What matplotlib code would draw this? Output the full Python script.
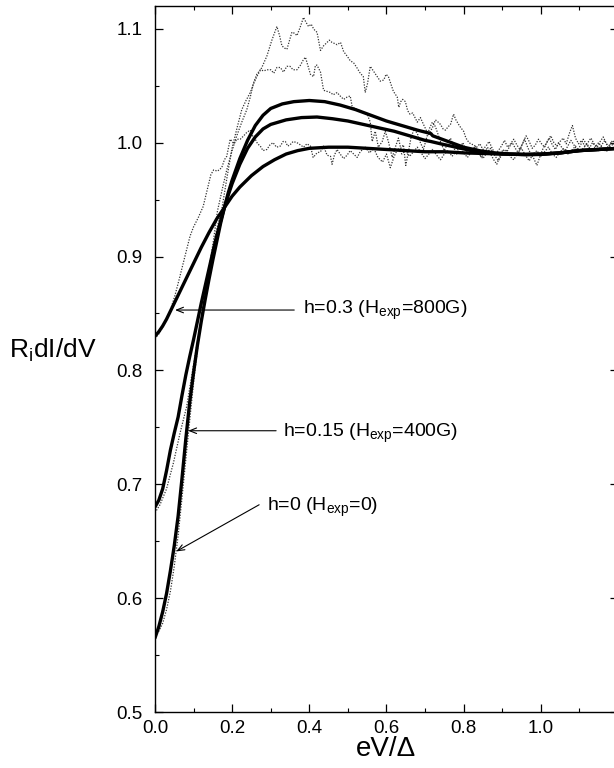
import matplotlib
matplotlib.use("Agg")
import matplotlib.pyplot as plt
from matplotlib.ticker import MultipleLocator

plt.rcParams['font.family'] = ['Liberation Sans', 'DejaVu Sans']
plt.rcParams['mathtext.default'] = 'regular'

# ─── Curvas teóricas ─────────────────────────────────────────────
x_t0 = [0.000, 0.010, 0.020, 0.030, 0.040, 0.050, 0.060, 0.070, 0.080, 0.090,
        0.100, 0.110, 0.120, 0.130, 0.140, 0.150, 0.160, 0.170, 0.180, 0.190,
        0.200, 0.220, 0.240, 0.260, 0.280, 0.300, 0.330, 0.360, 0.400, 0.440,
        0.480, 0.520, 0.560, 0.600, 0.640, 0.680, 0.715, 0.720, 0.760, 0.800,
        0.840, 0.880, 0.920, 0.960, 1.000, 1.050, 1.100, 1.150, 1.200]
y_t0 = [0.565, 0.575, 0.588, 0.604, 0.624, 0.646, 0.672, 0.705, 0.740, 0.772,
        0.798, 0.822, 0.843, 0.862, 0.880, 0.897, 0.913, 0.929, 0.943, 0.956,
        0.967, 0.986, 1.002, 1.015, 1.024, 1.030, 1.034, 1.036, 1.037, 1.036,
        1.033, 1.029, 1.024, 1.019, 1.015, 1.011, 1.008, 1.006, 1.001, 0.996,
        0.993, 0.991, 0.990, 0.9895, 0.9897, 0.991, 0.993, 0.994, 0.995]

x_t015 = [0.000, 0.010, 0.020, 0.030, 0.040, 0.050, 0.060, 0.070, 0.080, 0.090,
          0.100, 0.110, 0.120, 0.130, 0.140, 0.150, 0.160, 0.170, 0.180, 0.190,
          0.200, 0.220, 0.240, 0.260, 0.280, 0.300, 0.340, 0.380, 0.420, 0.460,
          0.500, 0.540, 0.580, 0.620, 0.660, 0.700, 0.715, 0.740, 0.780, 0.820,
          0.860, 0.900, 0.960, 1.000, 1.050, 1.100, 1.150, 1.200]
y_t015 = [0.680, 0.686, 0.696, 0.712, 0.730, 0.745, 0.759, 0.778, 0.796, 0.812,
          0.827, 0.843, 0.859, 0.874, 0.889, 0.904, 0.918, 0.931, 0.943, 0.954,
          0.964, 0.981, 0.995, 1.005, 1.012, 1.016, 1.020, 1.022, 1.0225, 1.021,
          1.019, 1.016, 1.013, 1.010, 1.006, 1.002, 1.001, 0.999, 0.996, 0.993,
          0.991, 0.990, 0.9895, 0.9897, 0.991, 0.993, 0.994, 0.995]

x_t03 = [0.000, 0.010, 0.020, 0.030, 0.040, 0.050, 0.060, 0.080, 0.100, 0.120,
         0.140, 0.160, 0.180, 0.200, 0.220, 0.250, 0.280, 0.310, 0.340, 0.370,
         0.400, 0.450, 0.500, 0.550, 0.600, 0.650, 0.700, 0.750, 0.800, 0.850,
         0.900, 0.950, 1.000, 1.050, 1.100, 1.150, 1.200]
y_t03 = [0.830, 0.834, 0.839, 0.845, 0.852, 0.859, 0.866, 0.880, 0.894, 0.908,
         0.921, 0.933, 0.943, 0.953, 0.961, 0.971, 0.979, 0.985, 0.990, 0.993,
         0.995, 0.996, 0.996, 0.995, 0.994, 0.993, 0.992, 0.992, 0.991, 0.9905,
         0.990, 0.9897, 0.990, 0.991, 0.993, 0.994, 0.995]

# ─── Datos experimentales ────────────────────────────────────────
x_e0 = [0.000, 0.010, 0.020, 0.030, 0.040, 0.050, 0.060, 0.070, 0.080, 0.090,
        0.100, 0.110, 0.120, 0.130, 0.140, 0.150, 0.160, 0.173, 0.186, 0.199,
        0.212, 0.225, 0.236, 0.247, 0.256, 0.264, 0.277, 0.290, 0.303, 0.316,
        0.323, 0.329, 0.336, 0.342, 0.349, 0.355, 0.362, 0.368, 0.376, 0.385,
        0.391, 0.398, 0.405, 0.411, 0.416, 0.420, 0.425, 0.429, 0.437, 0.446,
        0.452, 0.459, 0.466, 0.472, 0.481, 0.489, 0.498, 0.506, 0.515, 0.523,
        0.532, 0.540, 0.545, 0.551, 0.558, 0.566, 0.576, 0.584, 0.593, 0.599,
        0.605, 0.612, 0.618, 0.624, 0.628, 0.632, 0.637, 0.642, 0.649, 0.655,
        0.661, 0.668, 0.674, 0.680, 0.688, 0.696, 0.703, 0.709, 0.714, 0.719,
        0.727, 0.734, 0.740, 0.747, 0.753, 0.760, 0.766, 0.774, 0.780, 0.787,
        0.793, 0.800, 0.806, 0.812, 0.818, 0.826, 0.834, 0.842, 0.850, 0.858,
        0.866, 0.874, 0.882, 0.890, 0.898, 0.906, 0.914, 0.922, 0.930, 0.938,
        0.946, 0.954, 0.962, 0.970, 0.978, 0.986, 0.994, 1.002, 1.010, 1.018,
        1.026, 1.034, 1.042, 1.050, 1.058, 1.066, 1.074, 1.082, 1.090, 1.098,
        1.106, 1.114, 1.122, 1.130, 1.138, 1.146, 1.154, 1.162, 1.170, 1.178,
        1.186, 1.194, 1.200]
y_e0 = [0.567, 0.571, 0.578, 0.590, 0.606, 0.628, 0.655, 0.688, 0.722, 0.756,
        0.789, 0.818, 0.845, 0.868, 0.889, 0.907, 0.924, 0.941, 0.968, 0.994,
        1.012, 1.029, 1.037, 1.044, 1.052, 1.058, 1.066, 1.076, 1.090, 1.102,
        1.094, 1.085, 1.083, 1.082, 1.090, 1.097, 1.096, 1.094, 1.101, 1.110,
        1.106, 1.102, 1.104, 1.100, 1.098, 1.097, 1.088, 1.081, 1.085, 1.088,
        1.090, 1.088, 1.087, 1.086, 1.088, 1.080, 1.076, 1.072, 1.070, 1.066,
        1.061, 1.058, 1.044, 1.052, 1.067, 1.063, 1.058, 1.054, 1.055, 1.060,
        1.058, 1.051, 1.045, 1.042, 1.040, 1.031, 1.036, 1.038, 1.036, 1.028,
        1.025, 1.026, 1.022, 1.018, 1.022, 1.016, 1.011, 1.007, 1.010, 1.013,
        1.020, 1.018, 1.016, 1.012, 1.011, 1.014, 1.016, 1.025, 1.020, 1.016,
        1.013, 1.010, 1.004, 1.001, 0.999, 0.998, 0.996, 0.999, 0.994, 0.997,
        1.001, 0.995, 0.990, 0.993, 0.997, 1.002, 0.996, 0.999, 1.003, 0.998,
        0.994, 1.000, 1.006, 1.001, 0.995, 0.998, 1.003, 0.999, 0.996, 1.002,
        1.006, 1.000, 0.997, 1.001, 1.004, 0.999, 1.008, 1.015, 1.004, 0.999,
        1.002, 0.997, 1.000, 1.004, 0.999, 0.996, 1.001, 1.005, 0.999, 0.997,
        1.002, 0.999, 0.998]

x_e015 = [0.000, 0.013, 0.030, 0.048, 0.065, 0.082, 0.100, 0.120, 0.140, 0.152,
          0.162, 0.175, 0.186, 0.200, 0.212, 0.225, 0.238, 0.247, 0.255, 0.264,
          0.273, 0.282, 0.290, 0.300, 0.308, 0.316, 0.325, 0.333, 0.342, 0.350,
          0.358, 0.368, 0.377, 0.385, 0.390, 0.396, 0.403, 0.411, 0.416, 0.420,
          0.429, 0.437, 0.446, 0.455, 0.462, 0.472, 0.480, 0.489, 0.498, 0.506,
          0.511, 0.518, 0.524, 0.532, 0.541, 0.550, 0.558, 0.563, 0.571, 0.579,
          0.589, 0.597, 0.605, 0.615, 0.623, 0.631, 0.637, 0.644, 0.650, 0.657,
          0.664, 0.672, 0.680, 0.688, 0.696, 0.703, 0.711, 0.719, 0.727, 0.735,
          0.742, 0.750, 0.758, 0.766, 0.774, 0.782, 0.790, 0.798, 0.806, 0.814,
          0.822, 0.830, 0.838, 0.846, 0.854, 0.862, 0.870, 0.878, 0.886, 0.894,
          0.902, 0.910, 0.918, 0.926, 0.934, 0.942, 0.950, 0.958, 0.966, 0.974,
          0.982, 0.990, 0.998, 1.006, 1.014, 1.022, 1.030, 1.038, 1.046, 1.054,
          1.062, 1.070, 1.078, 1.086, 1.094, 1.102, 1.110, 1.118, 1.126, 1.134,
          1.142, 1.150, 1.158, 1.166, 1.174, 1.182, 1.190, 1.200]
y_e015 = [0.675, 0.682, 0.696, 0.719, 0.745, 0.768, 0.805, 0.845, 0.889, 0.915,
          0.940, 0.960, 0.976, 0.993, 1.006, 1.018, 1.029, 1.040, 1.052, 1.060,
          1.064, 1.063, 1.064, 1.064, 1.061, 1.066, 1.066, 1.062, 1.067, 1.067,
          1.064, 1.064, 1.068, 1.073, 1.075, 1.068, 1.060, 1.058, 1.068, 1.068,
          1.062, 1.046, 1.045, 1.044, 1.042, 1.044, 1.041, 1.038, 1.040, 1.041,
          1.032, 1.030, 1.029, 1.028, 1.026, 1.025, 1.018, 1.001, 1.010, 0.996,
          1.001, 1.010, 1.001, 0.987, 0.996, 1.004, 0.995, 0.998, 0.980, 0.992,
          1.005, 1.012, 1.008, 1.000, 0.994, 1.003, 1.012, 1.018, 1.014, 1.006,
          0.999, 0.993, 0.999, 1.004, 0.996, 0.990, 0.995, 1.000, 0.994, 0.989,
          0.993, 0.997, 0.992, 0.987, 0.991, 0.996, 0.990, 0.985, 0.981, 0.988,
          0.994, 0.990, 0.996, 1.000, 0.995, 0.991, 0.997, 1.003, 0.996, 0.990,
          0.986, 0.980, 0.988, 0.995, 0.999, 1.004, 0.998, 0.994, 1.000, 0.996,
          0.992, 0.997, 1.002, 0.998, 0.993, 0.997, 1.003, 0.999, 0.995, 1.000,
          0.997, 0.993, 0.998, 1.002, 0.996, 1.000, 0.998, 0.996]

x_e03 = [0.000, 0.010, 0.020, 0.030, 0.040, 0.052, 0.062, 0.073, 0.082, 0.091,
         0.100, 0.112, 0.125, 0.135, 0.145, 0.152, 0.162, 0.173, 0.180, 0.186,
         0.195, 0.205, 0.212, 0.221, 0.230, 0.238, 0.247, 0.253, 0.260, 0.266,
         0.273, 0.280, 0.290, 0.298, 0.306, 0.315, 0.325, 0.332, 0.338, 0.344,
         0.350, 0.358, 0.368, 0.377, 0.385, 0.394, 0.403, 0.410, 0.420, 0.429,
         0.437, 0.446, 0.455, 0.459, 0.465, 0.472, 0.480, 0.489, 0.498, 0.506,
         0.515, 0.524, 0.532, 0.545, 0.556, 0.567, 0.578, 0.590, 0.600, 0.610,
         0.620, 0.630, 0.640, 0.650, 0.660, 0.670, 0.680, 0.690, 0.700, 0.710,
         0.720, 0.730, 0.740, 0.750, 0.760, 0.770, 0.780, 0.790, 0.800, 0.810,
         0.820, 0.830, 0.840, 0.850, 0.860, 0.870, 0.880, 0.890, 0.900, 0.910,
         0.920, 0.930, 0.940, 0.950, 0.960, 0.970, 0.980, 0.990, 1.000, 1.010,
         1.020, 1.030, 1.040, 1.050, 1.060, 1.070, 1.080, 1.090, 1.100, 1.110,
         1.120, 1.130, 1.140, 1.150, 1.160, 1.170, 1.180, 1.190, 1.200]
y_e03 = [0.828, 0.832, 0.838, 0.845, 0.853, 0.866, 0.879, 0.894, 0.906, 0.918,
         0.926, 0.934, 0.944, 0.958, 0.972, 0.976, 0.975, 0.978, 0.985, 0.988,
         1.003, 0.999, 1.003, 1.003, 1.006, 1.009, 1.011, 1.006, 1.003, 0.999,
         0.997, 0.993, 0.994, 0.998, 1.000, 0.996, 0.997, 1.001, 1.001, 0.997,
         0.998, 1.001, 1.000, 0.998, 0.996, 0.999, 0.997, 0.987, 0.991, 0.992,
         0.997, 0.989, 0.988, 0.981, 0.989, 0.994, 0.990, 0.986, 0.989, 0.993,
         0.990, 0.987, 0.992, 0.996, 0.991, 0.995, 0.987, 0.983, 0.990, 0.978,
         0.988, 0.995, 0.990, 0.993, 0.988, 0.992, 0.996, 0.991, 0.986, 0.990,
         0.994, 0.989, 0.985, 0.990, 0.993, 0.988, 0.992, 0.996, 0.991, 0.987,
         0.992, 0.996, 0.990, 0.986, 0.991, 0.995, 0.989, 0.984, 0.990, 0.994,
         0.988, 0.985, 0.991, 0.995, 0.989, 0.984, 0.990, 0.993, 0.988, 0.992,
         0.996, 0.990, 0.987, 0.992, 0.995, 0.990, 0.993, 0.997, 0.992, 0.995,
         0.999, 0.993, 0.996, 1.000, 0.995, 0.992, 0.997, 0.999, 0.996]

# ─── Ejes y etiquetas ────────────────────────────────────────────
x_ticks = [0.0, 0.2, 0.4, 0.6, 0.8, 1.0, 1.2]
x_ticklabels = ["0.0", "0.2", "0.4", "0.6", "0.8", "1.0", ""]
etiquetas = ["h=0.3 (H$_{exp}$=800G)", "h=0.15 (H$_{exp}$=400G)", "h=0 (H$_{exp}$=0)"]
flecha_punta = [(0.052, 0.853), (0.086, 0.747), (0.055, 0.641)]
flecha_cola = [(0.361, 0.853), (0.314, 0.747), (0.270, 0.682)]
texto_pos = [(0.384, 0.853), (0.332, 0.745), (0.291, 0.680)]

fig = plt.figure(figsize=(6.14, 7.68), dpi=100)
ax = fig.add_axes([0.2524, 0.0729, 0.754, 0.9193])

for xe, ye in [(x_e0, y_e0), (x_e015, y_e015), (x_e03, y_e03)]:
    ax.plot(xe, ye, color='0.2', lw=0.9, linestyle=(0, (1, 1.2)))

for xt, yt in [(x_t0, y_t0), (x_t015, y_t015), (x_t03, y_t03)]:
    ax.plot(xt, yt, color='black', lw=2.4, solid_capstyle='round',
            solid_joinstyle='round')

for txt, punta, cola, pos in zip(etiquetas, flecha_punta, flecha_cola, texto_pos):
    ax.annotate('', xy=punta, xytext=cola,
                arrowprops=dict(arrowstyle='->,head_length=0.5,head_width=0.2',
                                lw=0.8, color='black', shrinkA=0, shrinkB=0))
    ax.text(pos[0], pos[1], txt, fontsize=14, ha='left', va='center')

ax.set_xlim(0, 1.2)
ax.set_ylim(0.5, 1.12)
ax.set_xticks(x_ticks)
ax.set_xticklabels(x_ticklabels)
ax.xaxis.set_minor_locator(MultipleLocator(0.1))
ax.yaxis.set_major_locator(MultipleLocator(0.1))
ax.yaxis.set_minor_locator(MultipleLocator(0.05))
ax.tick_params(which='both', direction='in', top=True, right=True, labelsize=13.5)
ax.tick_params(which='major', length=6, width=0.9)
ax.tick_params(which='minor', length=3, width=0.8)
ax.tick_params(axis='x', pad=6)
ax.tick_params(axis='y', pad=9)
for s in ax.spines.values():
    s.set_linewidth(1.0)

ax.set_xlabel("eV/\u0394", fontsize=20, labelpad=-1)
fig.text(0.015, 1 - 350 / 768, "R$_{i}$dI/dV", fontsize=19, ha='left', va='center')

fig.savefig("out.png", dpi=100)
